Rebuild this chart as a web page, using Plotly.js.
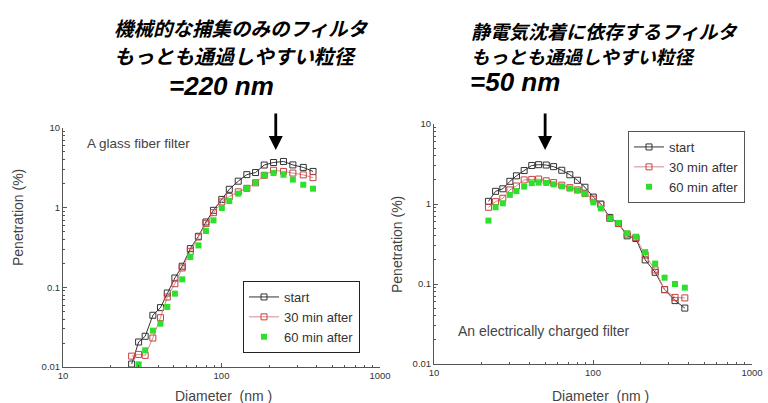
<!DOCTYPE html>
<html>
<head>
<meta charset="utf-8">
<script src="https://cdn.plot.ly/plotly-3.0.1.min.js"></script>
<style>html,body{margin:0;padding:0;background:#fff;}#chart{width:768px;height:403px;}</style>
</head>
<body>
<div id="chart"></div>
<script>
// Particle diameter bins (nm)
const diameter = [22.0, 24.4, 27.1, 30.0, 33.0, 36.9, 41.2, 45.5, 50.8, 56.5, 63.6, 71.5, 79.8, 89.0, 100.5, 112, 127.5, 144.5, 164, 186, 213, 246, 282, 328, 378];

// Left: A glass fiber filter, penetration (%)
const glassStart = [null, null, 0.0109, 0.0206, 0.0243, 0.0446, 0.0556, 0.0849, 0.131, 0.184, 0.306, 0.437, 0.661, 0.926, 1.27, 1.70, 2.15, 2.60, 2.76, 3.43, 3.69, 3.80, 3.44, 3.20, 2.85];
const glass30 = [null, null, 0.0137, 0.0144, 0.0140, 0.0231, 0.0416, 0.0756, 0.111, 0.175, 0.283, 0.428, 0.630, 0.865, 1.18, 1.38, 1.58, 1.75, 2.05, 2.55, 2.95, 2.85, 2.72, 2.58, 2.38];
const glass60 = [null, null, null, 0.0108, 0.0162, 0.0286, 0.035, 0.0567, 0.0833, 0.126, 0.240, 0.336, 0.509, 0.693, 0.99, 1.21, 1.50, 1.73, 2.10, 2.55, 2.72, 2.59, 2.25, 1.94, 1.73];

// Right: An electrically charged filter, penetration (%)
const chargedStart = [1.08, 1.44, 1.55, 1.92, 2.25, 2.62, 3.03, 3.10, 3.07, 2.93, 2.64, 2.32, 1.98, 1.62, 1.22, 1.0, 0.68, 0.57, 0.40, 0.37, 0.20, 0.14, 0.085, 0.062, 0.050];
const charged30 = [0.91, 1.07, 1.18, 1.50, 1.68, 2.0, 2.03, 2.05, 1.95, 1.85, 1.72, 1.60, 1.50, 1.35, 1.15, 0.98, 0.66, 0.57, 0.42, 0.38, 0.23, 0.15, 0.085, 0.068, 0.067];
const charged60 = [0.62, 0.91, 1.02, 1.30, 1.45, 1.65, 1.82, 1.85, 1.83, 1.76, 1.66, 1.56, 1.48, 1.35, 1.05, 0.88, 0.66, 0.58, 0.43, 0.39, 0.25, 0.18, 0.12, 0.10, 0.09];

const seriesNames = ["start", "30 min after", "60 min after"];
const xTickVals = [10, 100, 1000];
const xTickText = ["10", "100", "1000"];
const yTickVals = [0.01, 0.1, 1, 10];
const yTickText = ["0.01", "0.1", "1", "10"];
const xMinor = [20,30,40,50,60,70,80,90,200,300,400,500,600,700,800,900];
const yMinor = [0.02,0.03,0.04,0.05,0.06,0.07,0.08,0.09,0.2,0.3,0.4,0.5,0.6,0.7,0.8,0.9,2,3,4,5,6,7,8,9];
const mppsGlass = 220;   // nm, arrow position
const mppsCharged = 50;  // nm, arrow position

const cBlack = "#333333", cRedLine = "#d88a8a", cRed = "#c84040", cGreen = "#2ee02e";

function mk(x, y, name, xa, ya, legend, style) {
  return Object.assign({x: x, y: y, name: name, xaxis: xa, yaxis: ya, legend: legend, type: "scatter"}, style);
}
const sStart = {mode: "lines+markers", line: {color: cBlack, width: 1}, marker: {symbol: "square-open", size: 6, color: cBlack, line: {width: 1}}};
const s30 = {mode: "lines+markers", line: {color: cRedLine, width: 1}, marker: {symbol: "square-open", size: 6, color: cRed, line: {width: 1}}};
const s60 = {mode: "markers", marker: {symbol: "square", size: 6, color: cGreen}};

const data = [
  mk(diameter, glassStart, seriesNames[0], "x", "y", "legend", sStart),
  mk(diameter, glass30, seriesNames[1], "x", "y", "legend", s30),
  mk(diameter, glass60, seriesNames[2], "x", "y", "legend", s60),
  mk(diameter, chargedStart, seriesNames[0], "x2", "y2", "legend2", sStart),
  mk(diameter, charged30, seriesNames[1], "x2", "y2", "legend2", s30),
  mk(diameter, charged60, seriesNames[2], "x2", "y2", "legend2", s60)
];

const W = 768, H = 403;
const tickFont = {family: "Liberation Sans, Arial, sans-serif", size: 9.5, color: "#333"};
function xAxis(d0, d1, anchor) {
  return {type: "log", range: [1, 3], domain: [d0 / W, d1 / W], anchor: anchor,
    showline: true, linecolor: "#555", linewidth: 1, showgrid: false, zeroline: false,
    tickmode: "array", tickvals: xTickVals, ticktext: xTickText, ticks: "inside", ticklen: 4, tickcolor: "#555",
    minor: {tickmode: "array", tickvals: xMinor, ticks: "inside", ticklen: 2, tickcolor: "#555", showgrid: false},
    tickfont: tickFont, fixedrange: true};
}
function yAxis(top, bottom, anchor) {
  return {type: "log", range: [-2, 1], domain: [1 - bottom / H, 1 - top / H], anchor: anchor,
    showline: true, linecolor: "#555", linewidth: 1, showgrid: false, zeroline: false,
    tickmode: "array", tickvals: yTickVals, ticktext: yTickText, ticks: "inside", ticklen: 4, tickcolor: "#555",
    minor: {tickmode: "array", tickvals: yMinor, ticks: "inside", ticklen: 2, tickcolor: "#555", showgrid: false},
    tickfont: tickFont, fixedrange: true};
}

const jp = "Noto Sans CJK JP, sans-serif";
const lat = "Liberation Sans, Arial, sans-serif";
function txt(text, px, py, size, family, color, anchor, angle) {
  return {text: text, xref: "paper", yref: "paper", x: px / W, y: 1 - py / H, showarrow: false,
    xanchor: anchor || "left", yanchor: "middle", textangle: angle || 0,
    font: {family: family, size: size, color: color}};
}
const legendFont = {family: lat, size: 13, color: "#333"};

const layout = {
  width: W, height: H, margin: {l: 0, r: 0, t: 0, b: 0},
  paper_bgcolor: "#fff", plot_bgcolor: "#fff",
  xaxis: xAxis(63, 380, "y"), yaxis: yAxis(128, 367, "x"),
  xaxis2: xAxis(434, 752, "y2"), yaxis2: yAxis(124, 364, "x2"),
  legend: {x: 243 / W, y: 1 - 281 / H, xanchor: "left", yanchor: "top", bgcolor: "#fff",
    bordercolor: "#222", borderwidth: 1, font: legendFont, tracegroupgap: 0, itemwidth: 30},
  legend2: {x: 628 / W, y: 1 - 131 / H, xanchor: "left", yanchor: "top", bgcolor: "#fff",
    bordercolor: "#555", borderwidth: 1, font: legendFont, tracegroupgap: 0, itemwidth: 30},
  annotations: [
    txt("<b><i>機械的な捕集のみのフィルタ</i></b>", 112, 28, 19.5, jp, "#000"),
    txt("<b><i>もっとも通過しやすい粒径</i></b>", 112, 55, 20, jp, "#000"),
    txt("<b><i>=220 nm</i></b>", 167, 86, 26, lat, "#000"),
    txt("<b><i>静電気沈着に依存するフィルタ</i></b>", 469, 31, 19, jp, "#000"),
    txt("<b><i>もっとも通過しやすい粒径</i></b>", 469, 56, 18.5, jp, "#000"),
    txt("<b><i>=50 nm</i></b>", 468, 82, 26, lat, "#000"),
    txt("A glass fiber filter", 85, 143, 13.5, lat, "#444"),
    txt("An electrically charged filter", 456, 331, 14, lat, "#444"),
    txt("Penetration (%)", 18, 218, 14, lat, "#444", "center", -90),
    txt("Penetration (%)", 397, 245, 14, lat, "#444", "center", -90),
    txt("Diameter  (nm )", 223, 396, 14, lat, "#444", "center"),
    txt("Diameter  (nm )", 600, 396, 14, lat, "#444", "center"),
    {xref: "x", yref: "paper", x: Math.log10(mppsGlass), y: 1 - 150 / H, ax: 0, ay: -38,
      showarrow: true, arrowhead: 2, arrowsize: 1, arrowwidth: 2.8, arrowcolor: "#000", text: ""},
    {xref: "x2", yref: "paper", x: Math.log10(mppsCharged), y: 1 - 150 / H, ax: 0, ay: -38,
      showarrow: true, arrowhead: 2, arrowsize: 1, arrowwidth: 2.8, arrowcolor: "#000", text: ""}
  ]
};

Plotly.newPlot("chart", data, layout, {staticPlot: true, displayModeBar: false});
</script>
</body>
</html>
